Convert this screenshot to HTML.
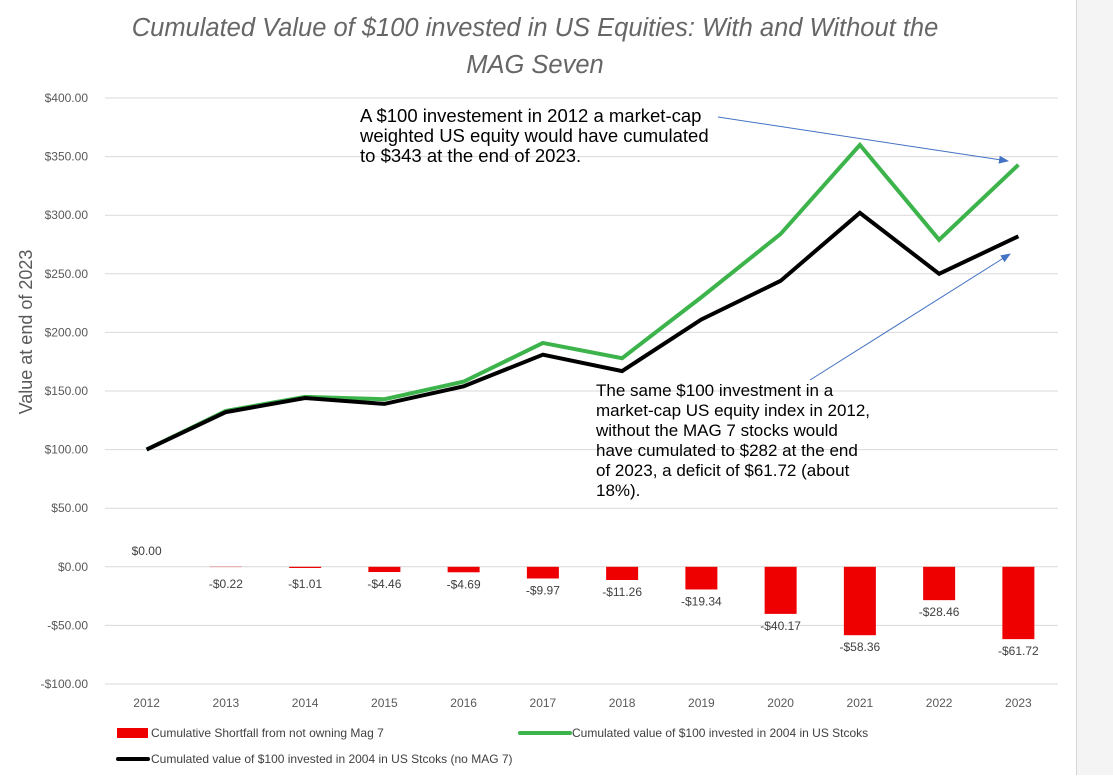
<!DOCTYPE html>
<html><head><meta charset="utf-8"><style>
body{margin:0;background:#fff;width:1113px;height:775px;overflow:hidden;font-family:"Liberation Sans",sans-serif}
</style></head><body>
<svg id="c" width="1113" height="775" xmlns="http://www.w3.org/2000/svg">
<rect x="1077" y="0" width="36" height="775" fill="#f4f4f4"/>
<line x1="1076.5" y1="0" x2="1076.5" y2="775" stroke="#d6d6d6"/>
<text x="535" y="36" text-anchor="middle" font-size="25.5" font-style="italic" fill="#666">Cumulated Value of $100 invested in US Equities: With and Without the</text>
<text x="535" y="73" text-anchor="middle" font-size="25.5" font-style="italic" fill="#666">MAG Seven</text>
<text transform="translate(32,332) rotate(-90)" text-anchor="middle" font-size="18" fill="#595959">Value at end of 2023</text>
<g id="grid"></g><g id="bars"></g><g id="lines"></g><g id="labels"></g>
<g font-size="18.5" fill="#000">
<text x="360" y="122">A $100 investement in 2012 a market-cap</text>
<text x="360" y="142">weighted US equity would have cumulated</text>
<text x="360" y="162">to $343 at the end of 2023.</text>
</g>
<g font-size="17" fill="#000">
<text x="596" y="396">The same $100 investment in a</text>
<text x="596" y="416">market-cap US equity index in 2012,</text>
<text x="596" y="436">without the MAG 7 stocks would</text>
<text x="596" y="456">have cumulated to $282 at the end</text>
<text x="596" y="476">of 2023, a deficit of $61.72 (about</text>
<text x="596" y="496">18%).</text>
</g>
<defs><marker id="ar" markerWidth="10" markerHeight="8" refX="9" refY="4" orient="auto" markerUnits="userSpaceOnUse"><path d="M0,0 L10,4 L0,8z" fill="#4472c4"/></marker></defs>
<line x1="718" y1="117" x2="1008" y2="161" stroke="#4472c4" stroke-width="1" marker-end="url(#ar)"/>
<line x1="810" y1="380" x2="1010" y2="254" stroke="#4472c4" stroke-width="1" marker-end="url(#ar)"/>
<g font-size="12" fill="#404040">
<rect x="117" y="728" width="31" height="10" fill="#e00"/>
<text x="151" y="737">Cumulative Shortfall from not owning Mag 7</text>
<line x1="520" y1="733" x2="570" y2="733" stroke="#3cb44b" stroke-width="4" stroke-linecap="round"/>
<text x="572" y="737">Cumulated value of $100 invested in 2004 in US Stcoks</text>
<line x1="118" y1="759" x2="148" y2="759" stroke="#000" stroke-width="4" stroke-linecap="round"/>
<text x="151" y="763">Cumulated value of $100 invested in 2004 in US Stcoks (no MAG 7)</text>
</g>
</svg>
<script>
const years=["2012","2013","2014","2015","2016","2017","2018","2019","2020","2021","2022","2023"];
const withMag=[100,133,145,143,158,191,178,230,284,360,279,343];
const withoutMag=[100,132,144,139,154,181,167,211,244,302,250,282];
const shortfall=[0,-0.22,-1.01,-4.46,-4.69,-9.97,-11.26,-19.34,-40.17,-58.36,-28.46,-61.72];
const yTicks=[400,350,300,250,200,150,100,50,0,-50,-100];
const NS="http://www.w3.org/2000/svg";
const x0=107,x1=1058,yTop=98,yBot=684,vMax=400,vMin=-100;
const step=(x1-x0)/years.length;
const X=i=>x0+step*(i+0.5);
const Y=v=>yBot-(v-vMin)/(vMax-vMin)*(yBot-yTop);
function mk(t,a,p){const e=document.createElementNS(NS,t);for(const k in a)e.setAttribute(k,a[k]);p.appendChild(e);return e;}
const grid=document.getElementById('grid'),bars=document.getElementById('bars'),lines=document.getElementById('lines'),labels=document.getElementById('labels');
yTicks.forEach(v=>{
 const l=mk('line',{x1:x0-2,x2:x1,y1:Y(v),y2:Y(v),stroke:'#d9d9d9','stroke-width':1},grid);
 
 
 const t=mk('text',{x:88,y:Y(v)+4,'text-anchor':'end','font-size':12,fill:'#595959'},grid);
 t.textContent=(v<0?'-$':'$')+Math.abs(v).toFixed(2);
 
 
});
years.forEach((y,i)=>{
 const t=mk('text',{x:X(i),y:707,'text-anchor':'middle','font-size':12,fill:'#595959'},labels);
 t.textContent=y;
 
 
});
shortfall.forEach((v,i)=>{
 const y0=Y(0),y1=Y(v);
 const r=mk('rect',{x:X(i)-16,y:Math.min(y0,y1),width:32,height:Math.abs(y1-y0),fill:'#e00'},bars);
 
 
 const ly=v===0?Y(0)-12:Math.max(Y(v)+16,Y(0)+21);
 const t=mk('text',{x:X(i),y:ly,'text-anchor':'middle','font-size':12,fill:'#404040'},labels);
 t.textContent=(v<0?'-$':'$')+Math.abs(v).toFixed(2);
 
 
});
function line(d,c,n){
 const p=mk('polyline',{points:d.map((v,i)=>X(i)+','+Y(v)).join(' '),fill:'none',stroke:c,'stroke-width':4,'stroke-linejoin':'miter'},lines);
 
 
}
line(withMag,'#3cb44b','line-with-mag7');
line(withoutMag,'#000','line-without-mag7');
</script>
</body></html>
